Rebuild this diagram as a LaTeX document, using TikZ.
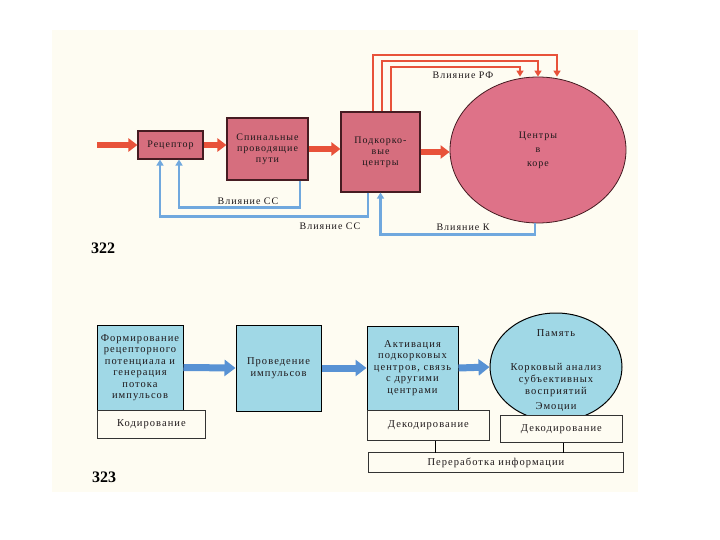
\documentclass[tikz,border=0pt]{standalone}
\usepackage{fontspec}
\setmainfont{Liberation Serif}[LetterSpace=10]
\usetikzlibrary{arrows.meta,shapes.geometric}

\definecolor{paper}{RGB}{254,252,242}
\definecolor{boxred}{RGB}{214,110,126}
\definecolor{ellred}{RGB}{222,114,136}
\definecolor{edgered}{RGB}{70,28,34}
\definecolor{arrowred}{RGB}{232,82,58}
\definecolor{lineblue}{RGB}{112,168,222}
\definecolor{boxcyan}{RGB}{160,216,230}
\definecolor{arrowblue}{RGB}{88,146,212}
\definecolor{ink}{RGB}{30,24,26}

\begin{document}
\begin{tikzpicture}[x=1pt,y=-1pt,thick,
	redbox/.style={draw=edgered,fill=boxred,line width=1.1pt,inner sep=1pt,align=center,text=ink,font=\fontsize{10}{11}\selectfont},
	redell/.style={ellipse,draw=edgered,fill=ellred,line width=0.8pt,inner sep=0pt,align=center,text=ink,font=\fontsize{10}{14}\selectfont},
	cyanbox/.style={draw=black,fill=boxcyan,line width=1pt,inner sep=1pt,align=center,text=ink,font=\fontsize{10.5}{11.5}\selectfont},
	cyanell/.style={ellipse,draw=black,fill=boxcyan,line width=1pt,inner sep=0pt},
	whitebox/.style={draw=black!80,fill=paper,line width=0.8pt,inner sep=1pt,text=ink,font=\fontsize{10.5}{11}\selectfont},
	lbl/.style={inner sep=1pt,text=ink,font=\fontsize{10}{11}\selectfont},
	fignum/.style={inner sep=0pt,text=black,font=\fontsize{16}{17}\selectfont\bfseries\addfontfeature{LetterSpace=0}},
	redarrow/.style={arrowred,line width=5.5pt,-{Triangle[length=9pt,width=13pt]}},
	rfline/.style={arrowred,line width=2pt,-{Triangle[length=6pt,width=7pt]}},
	fbline/.style={lineblue,line width=2.5pt,-{Triangle[length=6pt,width=7pt]}},
	bluearrow/.style={arrowblue,line width=7pt,-{Triangle[length=11pt,width=16pt]}},
	joinline/.style={black,line width=1.6pt}
]
	\useasboundingbox (0,0) rectangle (720,540);
	\fill [paper] (52,30) rectangle (638,492);
	
	\node [redbox,minimum width=65pt,minimum height=28pt] at (170.5,145) (rec) {Рецептор};
	\node [redbox,minimum width=81pt,minimum height=62pt] at (267.5,149) (spin) {Спинальные\\проводящие\\пути};
	\node [redbox,minimum width=79pt,minimum height=80pt] at (380.5,152) (sub) {Подкорко-\\вые\\центры};
	\node [redell,minimum width=176pt,minimum height=146pt] at (538,150) (cor) {Центры\\в\\коре};
	
	\coordinate (in) at (97,145);
	\draw [redarrow] (in) -- (rec.west);
	\draw [redarrow] (rec.east) -- (rec.east -| spin.west);
	\draw [redarrow] (spin.east) -- (spin.east -| sub.west);
	\draw [redarrow] (sub.east) -- (sub.east -| cor.west);
	
	\foreach [count=\n] \dx/\h/\ex in {-8pt/55/557,1pt/61/538,10pt/67/520}{
		\coordinate (rf \n) at (\ex,\h);
		\draw [rfline] ([xshift=\dx]sub.north) |- (rf \n) -- (rf \n |- cor.north);
	}
	\node [lbl] at (463,75) (lab rf) {Влияние РФ};
	
	\draw [fbline] ([xshift=32.5pt]spin.south) -- ++(0,27) -| ([xshift=8.5pt]rec.south);
	\draw [fbline] ([xshift=-12.5pt]sub.south) -- ++(0,24) -| ([xshift=-10.5pt]rec.south);
	\draw [fbline] ([xshift=-3pt]cor.south) -- ++(0,11) -| (sub.south);
	\node [lbl] at (248,201) (lab ss 1) {Влияние СС};
	\node [lbl] at (330,226) (lab ss 2) {Влияние СС};
	\node [lbl] at (463,227) (lab k) {Влияние К};
	
	\node [fignum] at (103,248) (fig 322) {322};
	
	\node [cyanbox,minimum width=86pt,minimum height=85pt] at (140,367.5) (form) {Формирование\\рецепторного\\потенциала и\\генерация\\потока\\импульсов};
	\node [whitebox,minimum width=108pt,minimum height=28pt,anchor=north west] at (97,410) (kod) {Кодирование};
	\node [cyanbox,minimum width=85pt,minimum height=86pt] at (278.5,368) (cond) {Проведение\\импульсов};
	\node [cyanbox,minimum width=91pt,minimum height=84pt] at (412.5,368) (act) {Активация\\подкорковых\\центров, связь\\с другими\\центрами};
	\node [whitebox,minimum width=122pt,minimum height=30pt,anchor=north west] at (367,410) (dec 1) {Декодирование};
	
	\node [cyanell,minimum width=132pt,minimum height=108pt] at (556,367) (mem) {};
	\node [lbl,font=\fontsize{10.5}{11}\selectfont] at (556,333) (mem top) {Память};
	\node [lbl,align=center,font=\fontsize{10.5}{12}\selectfont] at (556,380) (mem mid) {Корковый анализ\\субъективных\\восприятий};
	\node [lbl,font=\fontsize{10.5}{11}\selectfont] at (556,407) (mem low) {Эмоции};
	\node [whitebox,minimum width=122pt,minimum height=27pt,anchor=north west] at (500,415) (dec 2) {Декодирование};
	\node [whitebox,minimum width=255pt,minimum height=20pt,anchor=north west] at (368,452) (proc) {Переработка информации};
	
	\draw [bluearrow] (form.east) -- (cond.west);
	\draw [bluearrow] (cond.east) -- (act.west);
	\draw [bluearrow] (act.east) -- (mem.west);
	
	\draw [joinline] (dec 1.south) ++(7,0) -- ++(0,12);
	\draw [joinline] (dec 2.south) ++(2,0) -- ++(0,10);
	
	\node [fignum] at (104,477) (fig 323) {323};
\end{tikzpicture}
\end{document}
